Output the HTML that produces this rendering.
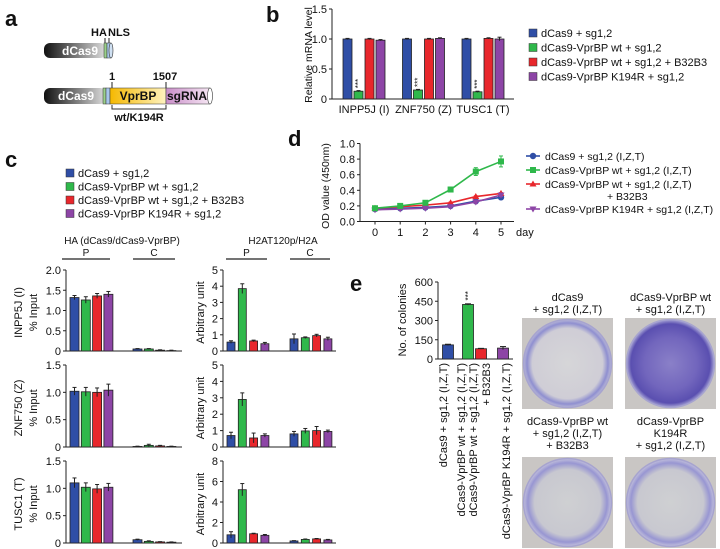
<!DOCTYPE html>
<html><head><meta charset="utf-8"><style>
html,body{margin:0;padding:0;background:#fff}
svg{display:block;font-family:"Liberation Sans",sans-serif}
</style></head><body>
<svg id="fig" width="720" height="549" viewBox="0 0 720 549" xmlns="http://www.w3.org/2000/svg">
<defs>
<linearGradient id="gcas" x1="0" x2="1"><stop offset="0" stop-color="#111"/><stop offset="1" stop-color="#ddd"/></linearGradient>
<linearGradient id="gvpr" x1="0" x2="1"><stop offset="0" stop-color="#f5b800"/><stop offset="1" stop-color="#fff3c0"/></linearGradient>
<linearGradient id="gsg" x1="0" x2="1"><stop offset="0" stop-color="#c98ec9"/><stop offset="1" stop-color="#f6e6f3"/></linearGradient>
<radialGradient id="dish"><stop offset="0" stop-color="#d6d6d8"/><stop offset="0.8" stop-color="#cfcdd6"/><stop offset="0.92" stop-color="#8f8fd0"/><stop offset="1" stop-color="#b9b8d8"/></radialGradient>
<radialGradient id="dish2"><stop offset="0" stop-color="#8a80c8"/><stop offset="0.6" stop-color="#7266bd"/><stop offset="0.9" stop-color="#5a4fb0"/><stop offset="1" stop-color="#a9a6d6"/></radialGradient>
<radialGradient id="dish3"><stop offset="0" stop-color="#cfd0d2"/><stop offset="0.75" stop-color="#c8c8d0"/><stop offset="0.9" stop-color="#9896d2"/><stop offset="1" stop-color="#c2c0dc"/></radialGradient>
</defs>
<g id="root"></g>
</svg>
<script>
// ---- data ----
const colors = ["#2f4ea6","#2fb84b","#e8272c","#8d45a6"];
const legendC = ["dCas9 + sg1,2","dCas9-VprBP wt + sg1,2","dCas9-VprBP wt + sg1,2 + B32B3","dCas9-VprBP K194R + sg1,2"];
const genesB = ["INPP5J (I)","ZNF750 (Z)","TUSC1 (T)"];
const valsB = [[1.0,0.13,1.0,0.98],[1.0,0.15,1.0,1.01],[1.0,0.12,1.01,1.0]];
const errB = [[0.01,0.01,0.01,0.01],[0.01,0.01,0.01,0.01],[0.01,0.01,0.01,0.03]];
const ticksB = [0,0.5,1.0,1.5];
const tickLabB = ["0","0.5","1.0","1.5"];

const haP = [[1.32,1.26,1.36,1.40],[1.02,1.01,1.00,1.04],[1.10,1.02,0.99,1.02]];
const haPerr = [[0.05,0.08,0.06,0.07],[0.07,0.08,0.08,0.11],[0.09,0.08,0.08,0.07]];
const haC = [[0.05,0.05,0.02,0.01],[0.01,0.03,0.02,0.01],[0.06,0.03,0.02,0.015]];
const haCerr = [[0.01,0.01,0.01,0.01],[0.005,0.02,0.01,0.005],[0.01,0.01,0.005,0.005]];
const h2P = [[0.55,3.85,0.62,0.45],[0.7,2.9,0.55,0.7],[0.8,5.2,0.9,0.75]];
const h2Perr = [[0.08,0.3,0.05,0.08],[0.2,0.4,0.3,0.1],[0.3,0.6,0.05,0.08]];
const h2C = [[0.75,0.82,0.95,0.75],[0.8,0.98,1.0,0.95],[0.2,0.35,0.4,0.3]];
const h2Cerr = [[0.3,0.05,0.08,0.1],[0.15,0.15,0.25,0.08],[0.03,0.04,0.04,0.05]];
const cGenes = ["INPP5J (I)","ZNF750 (Z)","TUSC1 (T)"];
const haMax = [2.0,1.5,1.5];
const haTicks = [[0,0.5,1.0,1.5,2.0],[0,0.5,1.0,1.5],[0,0.5,1.0,1.5]];
const haTickLab = [["0","0.5","1.0","1.5","2.0"],["0","0.5","1.0","1.5"],["0","0.5","1.0","1.5"]];
const h2Max = [5,5,8];
const h2Ticks = [[0,1,2,3,4,5],[0,1,2,3,4,5],[0,2,4,6,8]];

const days = [0,1,2,3,4,5];
const odSeries = [
 [0.16,0.17,0.18,0.20,0.26,0.31],
 [0.17,0.20,0.24,0.41,0.64,0.77],
 [0.17,0.19,0.21,0.24,0.32,0.36],
 [0.15,0.16,0.17,0.19,0.25,0.34]];
const odErr = [[0.01,0.01,0.01,0.01,0.02,0.02],[0.01,0.01,0.02,0.03,0.05,0.07],[0.01,0.01,0.01,0.01,0.01,0.01],[0.01,0.01,0.01,0.01,0.02,0.02]];
const odTicks = [0,0.2,0.4,0.6,0.8,1.0];
const odTickLab = ["0.0","0.2","0.4","0.6","0.8","1.0"];
const legendD = ["dCas9 + sg1,2 (I,Z,T)","dCas9-VprBP wt + sg1,2 (I,Z,T)","dCas9-VprBP wt + sg1,2 (I,Z,T)","dCas9-VprBP K194R + sg1,2 (I,Z,T)"];

const colonies = [110,425,80,85];
const colErr = [5,5,3,12];
const colTicks = [0,150,300,450,600];
const colLabels = ["dCas9 + sg1,2 (I,Z,T)","dCas9-VprBP wt + sg1,2 (I,Z,T)","dCas9-VprBP wt + sg1,2 (I,Z,T)","dCas9-VprBP K194R + sg1,2 (I,Z,T)"];

// ---- helpers ----
const NS="http://www.w3.org/2000/svg";
const root=document.getElementById('root');
function mk(tag,attrs,parent,text){const e=document.createElementNS(NS,tag);for(const k in attrs)e.setAttribute(k,attrs[k]);if(text!==undefined)e.textContent=text;(parent||root).appendChild(e);return e;}
function txt(x,y,s,size,opts,name){opts=opts||{};const a={x:x,y:y,'font-size':size,fill:opts.fill||'#111'};if(opts.anchor)a['text-anchor']=opts.anchor;if(opts.weight)a['font-weight']=opts.weight;if(opts.rot)a.transform='rotate('+opts.rot+' '+x+' '+y+')';const t=mk('text',a,opts.parent,s);

return t;}
function line(x1,y1,x2,y2,w,parent,c){return mk('line',{x1:x1,y1:y1,x2:x2,y2:y2,stroke:c||'#222','stroke-width':w||1},parent);}

function yAxis(g,x,y0,yTop,ticks,labels,max,fs){
  const sc=v=>y0-(y0-yTop)*v/max;
  line(x,y0,x,sc(ticks[ticks.length-1]),1,g);
  ticks.forEach((t,i)=>{const y=sc(t);line(x-3,y,x,y,1,g);txt(x-5,y+4,labels[i],fs||11,{anchor:'end',parent:g},'y-tick-label');});
  return sc;
}
function bars(g,sc,startX,step,w,vals,errs,y0,nm){
  vals.forEach((v,i)=>{const x=startX+i*step;const y=sc(v);
    const r=mk('rect',{x:x,y:y,width:w,height:y0-y,fill:colors[i],stroke:'#222','stroke-width':0.8},g);
    
    
    if(errs){const e=errs[i];const cx=x+w/2;line(cx,sc(v+e),cx,sc(Math.max(0,v-e)),1,g);line(cx-2,sc(v+e),cx+2,sc(v+e),1,g);}
  });
}

// ---- panel a ----
(function(){
 const g=mk('g',{});
 txt(5,26,'a',22,{weight:'bold',parent:g},'panel-letter-a');
 mk('rect',{x:44,y:43,width:62,height:15,rx:6,fill:'url(#gcas)'},g);
 mk('rect',{x:104,y:43,width:3,height:15,fill:'#9bd08a',stroke:'#333','stroke-width':0.5},g);
 mk('rect',{x:107,y:43,width:4,height:15,fill:'#a8c6ea',stroke:'#333','stroke-width':0.5},g);
 mk('ellipse',{cx:111,cy:50.5,rx:2,ry:7.5,fill:'#cfe0f2',stroke:'#333','stroke-width':0.6},g);
 txt(62,55,'dCas9',12,{fill:'#fff',weight:'bold',parent:g},'dcas9-label');
 txt(91,36,'HA',11,{weight:'bold',parent:g},'ha-label');
 txt(108,36,'NLS',11,{weight:'bold',parent:g},'nls-label');
 line(105,38,105,43,1,g);line(109,38,109,43,1,g);
 mk('rect',{x:44,y:88,width:62,height:16,rx:6,fill:'url(#gcas)'},g);
 mk('rect',{x:103,y:88,width:3,height:16,fill:'#9bd08a',stroke:'#333','stroke-width':0.5},g);
 mk('rect',{x:106,y:88,width:4,height:16,fill:'#a8c6ea',stroke:'#333','stroke-width':0.5},g);
 mk('rect',{x:110,y:88,width:56,height:16,fill:'url(#gvpr)',stroke:'#333','stroke-width':0.5},g);
 mk('rect',{x:166,y:88,width:44,height:16,fill:'url(#gsg)',stroke:'#333','stroke-width':0.5},g);
 mk('ellipse',{cx:210,cy:96,rx:2.5,ry:8,fill:'#fff',stroke:'#333','stroke-width':0.6},g);
 txt(58,100,'dCas9',12,{fill:'#fff',weight:'bold',parent:g},'dcas9-label-2');
 txt(138,100,'VprBP',12,{weight:'bold',anchor:'middle',parent:g},'vprbp-label');
 txt(187,100,'sgRNA',12,{weight:'bold',anchor:'middle',parent:g},'sgrna-label');
 txt(112,80,'1',11,{weight:'bold',anchor:'middle',parent:g},'pos-1');
 txt(165,80,'1507',11,{weight:'bold',anchor:'middle',parent:g},'pos-1507');
 line(112,82,112,88,1,g);line(166,82,166,88,1,g);
 mk('path',{d:'M112 105 V109 H166 V105',fill:'none',stroke:'#333','stroke-width':1},g);
 txt(139,121,'wt/K194R',11,{weight:'bold',anchor:'middle',parent:g},'mutant-label');
})();

// ---- panel b ----
(function(){
 const g=mk('g',{});
 txt(266,22,'b',22,{weight:'bold',parent:g},'panel-letter-b');
 const y0=99,yTop=9;
 const sc=yAxis(g,332,y0,yTop,ticksB,tickLabB,1.5,11);
 line(332,y0,514,y0,1,g);
 txt(312,55,'Relative mRNA level',10.5,{anchor:'middle',rot:-90,parent:g},'y-axis-title-b');
 genesB.forEach((gn,k)=>{const sx=343+k*59.5;bars(g,sc,sx,11,9,valsB[k],errB[k],y0,'b-'+k);
   txt(sx+11+7,sc(valsB[k][1])-3,'***',8,{rot:-90,parent:g},'significance');
   txt(sx+21,113,gn,11,{anchor:'middle',parent:g},'x-tick-label');});
 legendC.forEach((l,i)=>{const y=34+i*14.5;const r=mk('rect',{x:529,y:y-5,width:8,height:8,fill:colors[i],stroke:'#333','stroke-width':0.5},g);
   
   txt(541,y+3,l,11,{parent:g},'legend-entry');});
})();

// ---- panel c ----
(function(){
 const g=mk('g',{});
 txt(5,167,'c',22,{weight:'bold',parent:g},'panel-letter-c');
 legendC.forEach((l,i)=>{const y=174+i*13.5;const r=mk('rect',{x:66,y:y-5,width:8,height:8,fill:colors[i],stroke:'#333','stroke-width':0.5},g);
   
   txt(78,y+3,l,11,{parent:g},'legend-entry');});
 txt(122,244,'HA (dCas9/dCas9-VprBP)',10,{anchor:'middle',parent:g},'chart-title-ha');
 txt(283,244,'H2AT120p/H2A',10,{anchor:'middle',parent:g},'chart-title-h2a');
 [[62,110,'P'],[133,175,'C'],[226,267,'P'],[290,330,'C']].forEach(p=>{line(p[0],259,p[1],259,1.2,g);txt((p[0]+p[1])/2,256,p[2],10,{anchor:'middle',parent:g},'group-label');});
 const zeros=[351,447,543],tops=[270,365,461];
 for(let k=0;k<3;k++){
  const y0=zeros[k],yt=tops[k];
  const s1=yAxis(g,66,y0,yt,haTicks[k],haTickLab[k],haMax[k],11);
  line(66,y0,182,y0,1,g);
  bars(g,s1,70,11.3,9,haP[k],haPerr[k],y0,'ha-p-'+k);
  bars(g,s1,133,11.3,9,haC[k],haCerr[k],y0,'ha-c-'+k);
  txt(22,(y0+yt)/2+2,cGenes[k],11,{anchor:'middle',rot:-90,parent:g},'y-axis-title-gene');
  txt(37,(y0+yt)/2+2,'% Input',11,{anchor:'middle',rot:-90,parent:g},'y-axis-title-input');
  const s2=yAxis(g,223,y0,yt,h2Ticks[k],h2Ticks[k].map(String),h2Max[k],11);
  line(223,y0,336,y0,1,g);
  bars(g,s2,227,11.3,8,h2P[k],h2Perr[k],y0,'h2-p-'+k);
  bars(g,s2,290,11.3,8,h2C[k],h2Cerr[k],y0,'h2-c-'+k);
  txt(204,(y0+yt)/2+2,'Arbitrary unit',11,{anchor:'middle',rot:-90,parent:g},'y-axis-title-arb');
 }
})();

// ---- panel d ----
(function(){
 const g=mk('g',{});
 txt(288,146,'d',22,{weight:'bold',parent:g},'panel-letter-d');
 const y0=221.5,x0=375,dx=25.2;
 const sc=yAxis(g,360,y0,143.5,odTicks,odTickLab,1.0,11);
 line(360,y0,514,y0,1,g);
 const sx=d=>x0+d*dx;
 days.forEach(d=>{line(sx(d),y0,sx(d),y0+3,1,g);txt(sx(d),236,String(d),11,{anchor:'middle',parent:g},'x-tick-label');});
 txt(516,236,'day',11,{parent:g},'x-axis-title-d');
 txt(329,186,'OD value (450nm)',10.5,{anchor:'middle',rot:-90,parent:g},'y-axis-title-d');
 function marker(x,y,i,par){let m;
  if(i===0)m=mk('circle',{cx:x,cy:y,r:3.2,fill:colors[i]},par);
  else if(i===1)m=mk('rect',{x:x-3,y:y-3,width:6,height:6,fill:colors[i]},par);
  else if(i===2)m=mk('path',{d:`M${x} ${y-3.5} L${x+3.5} ${y+2.5} L${x-3.5} ${y+2.5}Z`,fill:colors[i]},par);
  else m=mk('path',{d:`M${x} ${y+3.5} L${x+3.5} ${y-2.5} L${x-3.5} ${y-2.5}Z`,fill:colors[i]},par);
  }
 [0,2,3,1].forEach(i=>{
  const s=odSeries[i];
  const p=mk('polyline',{points:s.map((v,d)=>sx(d)+','+sc(v)).join(' '),fill:'none',stroke:colors[i],'stroke-width':1.6},g);
  
  s.forEach((v,d)=>{const e=odErr[i][d];line(sx(d),sc(v+e),sx(d),sc(v-e),1,g,colors[i]);line(sx(d)-2,sc(v+e),sx(d)+2,sc(v+e),1,g,colors[i]);line(sx(d)-2,sc(v-e),sx(d)+2,sc(v-e),1,g,colors[i]);marker(sx(d),sc(v),i,g);});
 });
 const ly=[156,170,184,209];
 legendD.forEach((l,i)=>{line(526,ly[i],540,ly[i],1.6,g,colors[i]);marker(533,ly[i],i,g);txt(545,ly[i]+4,l,10.5,{parent:g},'legend-entry');});
 txt(607,200,'+ B32B3',10.5,{parent:g},'legend-entry-cont');
})();

// ---- panel e ----
(function(){
 const g=mk('g',{});
 txt(350,291,'e',22,{weight:'bold',parent:g},'panel-letter-e');
 const y0=359,x=438;
 const sc=yAxis(g,x,y0,282,colTicks,colTicks.map(String),600,11);
 line(x,y0,513,y0,1,g);
 txt(406,320,'No. of colonies',11,{anchor:'middle',rot:-90,parent:g},'y-axis-title-e');
 const cx=[448,468,481,503];
 colonies.forEach((v,i)=>{const w=11,bx=cx[i]-w/2,y=sc(v);
  const r=mk('rect',{x:bx,y:y,width:w,height:y0-y,fill:colors[i],stroke:'#222','stroke-width':0.8},g);
  
  const e=colErr[i];line(cx[i],sc(v+e),cx[i],sc(v-e),1,g);line(cx[i]-3,sc(v+e),cx[i]+3,sc(v+e),1,g);
  if(i===1)txt(cx[i]+3,sc(v)-4,'***',8,{rot:-90,parent:g},'significance');
 });
 const lx=[447,465,477,490,510];
 txt(lx[0],363,colLabels[0],11,{anchor:'end',rot:-90,parent:g},'x-tick-label');
 txt(lx[1],363,colLabels[1],11,{anchor:'end',rot:-90,parent:g},'x-tick-label');
 txt(lx[2],363,colLabels[2],11,{anchor:'end',rot:-90,parent:g},'x-tick-label');
 txt(lx[3],363,'+ B32B3',11,{anchor:'end',rot:-90,parent:g},'x-tick-label');
 txt(lx[4],363,colLabels[3],11,{anchor:'end',rot:-90,parent:g},'x-tick-label');
 const plates=[[522,318,'url(#dish)',['dCas9','+  sg1,2 (I,Z,T)'],301],[625,318,'url(#dish2)',['dCas9-VprBP wt','+ sg1,2 (I,Z,T)'],301],
  [522,457,'url(#dish3)',['dCas9-VprBP wt','+ sg1,2 (I,Z,T)','+ B32B3'],425],[625,457,'url(#dish3)',['dCas9-VprBP','K194R','+ sg1,2 (I,Z,T)'],425]];
 plates.forEach((p,k)=>{
  const r=mk('rect',{x:p[0],y:p[1],width:91,height:91,fill:'#c9c6c4'},g);
  
  mk('circle',{cx:p[0]+45.5,cy:p[1]+45.5,r:44,fill:p[2],stroke:'#a7a4cf','stroke-width':1.5},g);
  p[3].forEach((s,j)=>txt(p[0]+45.5,p[4]+j*12,s,11,{anchor:'middle',parent:g},'plate-title'));
 });
})();
</script>
</body></html>
